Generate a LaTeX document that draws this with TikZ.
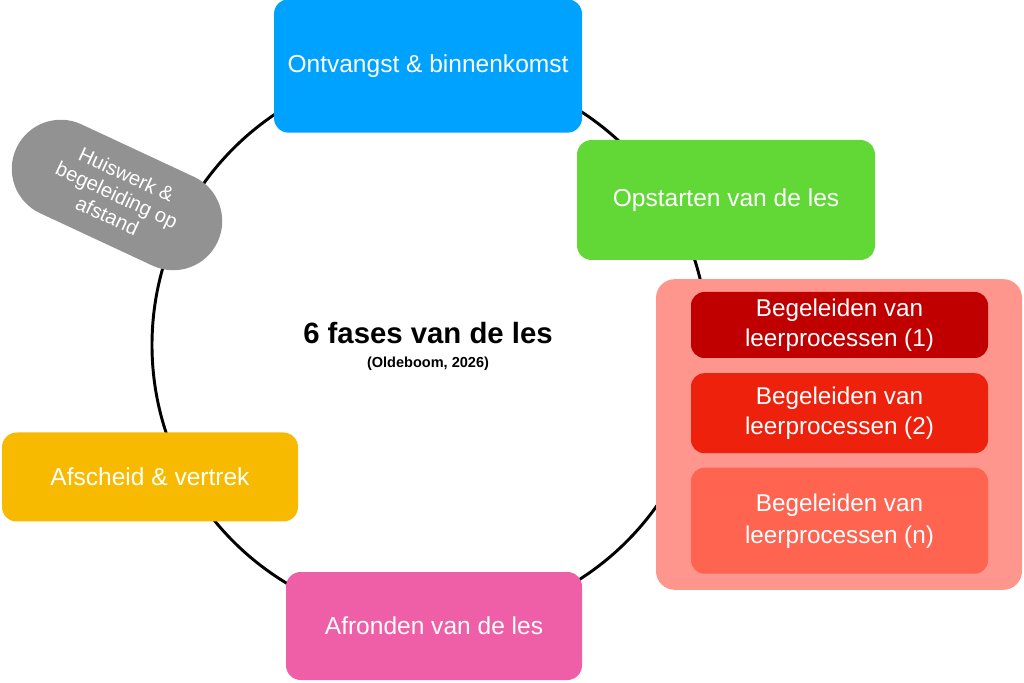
\documentclass[tikz,border=0pt]{standalone}
\usepackage{fontspec}
\setmainfont{Liberation Sans}
\usetikzlibrary{positioning}

\definecolor{fblue}{HTML}{00A2FF}
\definecolor{fgreen}{HTML}{61D836}
\definecolor{fouter}{HTML}{FF968D}
\definecolor{fred}{HTML}{C00000}
\definecolor{fredb}{HTML}{EE220C}
\definecolor{fredc}{HTML}{FF6450}
\definecolor{fyellow}{HTML}{F8BA00}
\definecolor{fpink}{HTML}{EF5FA7}
\definecolor{fgray}{HTML}{929292}

\begin{document}
\begin{tikzpicture}[x=0.75pt, y=0.75pt,
	phase/.style={rectangle, rounded corners=11pt, inner sep=0pt, text=white, align=center, font=\fontsize{18.4}{21}\selectfont},
	leer/.style={phase, rounded corners=10pt, minimum width=222.75pt, font=\fontsize{18.2}{22.5}\selectfont}]
	\useasboundingbox (0,0) rectangle (1024,682);
	
	% circle behind the phases
	\coordinate (mid) at (430,337);
	\draw[line width=2.2pt] (mid) circle (278);
	
	\node[font=\fontsize{22}{26}\selectfont\bfseries] (title) at (428,349) {6 fases van de les};
	\node[font=\fontsize{10.9}{13}\selectfont\bfseries] (source) at (428,318) {(Oldeboom, 2026)};
	
	\node[phase, fill=fblue, minimum width=231pt, minimum height=100pt] (ontvangst) at (428,616) {Ontvangst \& binnenkomst};
	\node[phase, fill=fgreen, minimum width=223.5pt, minimum height=90pt] (opstarten) at (726,482) {Opstarten van de les};
	
	\node[rectangle, rounded corners=14pt, fill=fouter, minimum width=274.5pt, minimum height=233pt] (begeleiden) at (839,247.5) {};
	\node[leer, fill=fred, minimum height=49.5pt] (leer1) at (839.5,357) {Begeleiden van\\leerprocessen (1)};
	\node[leer, fill=fredb, minimum height=60pt, below=11pt of leer1] (leer2) {Begeleiden van\\leerprocessen (2)};
	\node[leer, fill=fredc, minimum height=79.5pt, below=10.5pt of leer2, font=\fontsize{18.2}{24}\selectfont] (leern) {Begeleiden van\\leerprocessen (n)};
	
	\node[phase, fill=fpink, minimum width=222pt, minimum height=81pt] (afronden) at (434,56) {Afronden van de les};
	\node[phase, fill=fyellow, minimum width=222pt, minimum height=66.75pt] (afscheid) at (150,205) {Afscheid \& vertrek};
	\node[phase, fill=fgray, rounded corners=36.7pt, minimum width=166.5pt, minimum height=73.5pt, rotate=-25, font=\fontsize{15.2}{17}\selectfont] (huiswerk) at (117,487) {Huiswerk \&\\begeleiding op\\afstand};
\end{tikzpicture}
\end{document}
